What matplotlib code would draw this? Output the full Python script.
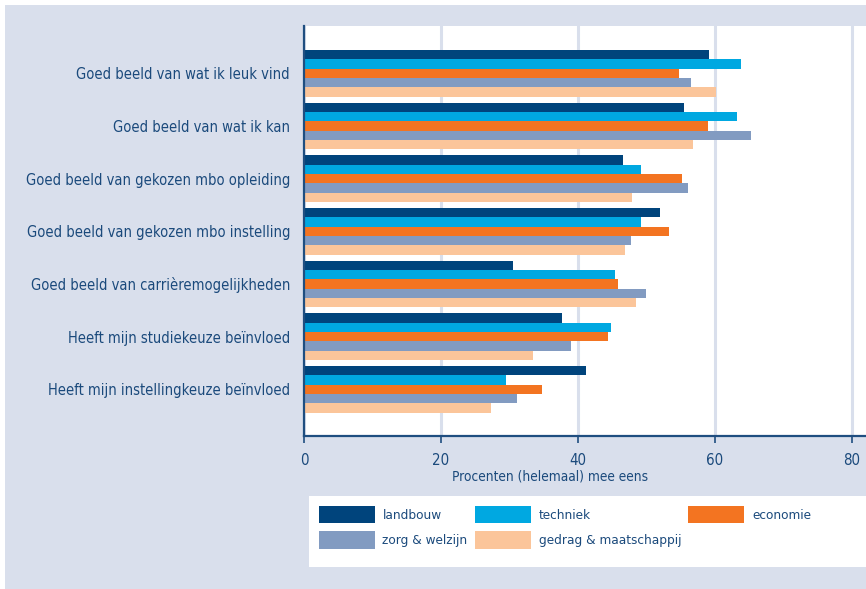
import matplotlib
matplotlib.use("Agg")
import matplotlib.pyplot as plt
from matplotlib.patches import Rectangle, Patch
from matplotlib import font_manager as fm
import numpy as np

categories = [
    "Goed beeld van wat ik leuk vind",
    "Goed beeld van wat ik kan",
    "Goed beeld van gekozen mbo opleiding",
    "Goed beeld van gekozen mbo instelling",
    "Goed beeld van carrièremogelijkheden",
    "Heeft mijn studiekeuze beïnvloed",
    "Heeft mijn instellingkeuze beïnvloed",
]
series_names = ["landbouw", "techniek", "economie", "zorg & welzijn", "gedrag & maatschappij"]
landbouw = [59.1, 55.5, 46.6, 52.0, 30.5, 37.7, 41.2]
techniek = [63.8, 63.2, 49.2, 49.2, 45.4, 44.8, 29.5]
economie = [54.7, 59.0, 55.2, 53.3, 45.8, 44.4, 34.7]
zorg = [56.5, 65.3, 56.1, 47.7, 49.9, 39.0, 31.1]
gedrag = [60.1, 56.8, 47.9, 46.9, 48.5, 33.4, 27.3]
xticks = [0, 20, 40, 60, 80]
xlabel = "Procenten (helemaal) mee eens"

colors = ["#00447c", "#00a8e1", "#f37421", "#829bc1", "#fbc59a"]
text_color = "#1b4a7c"
lavender = "#d9dfec"

names = {f.name for f in fm.fontManager.ttflist}
cond = [f for f in fm.fontManager.ttflist if f.stretch in ("condensed", "semi-condensed") or
        "Narrow" in f.name or "Condensed" in f.name]
if "Liberation Sans Narrow" in names:
    plt.rcParams['font.family'] = ["Liberation Sans Narrow", "DejaVu Sans"]
elif cond:
    plt.rcParams['font.family'] = [cond[0].name, "DejaVu Sans"]
    plt.rcParams['font.stretch'] = cond[0].stretch
else:
    plt.rcParams['font.family'] = ["Roboto", "DejaVu Sans"]
fs_y = 10.5
fs_tick = 10.8
fs_lab = 9.8
fs_leg = 9.7

W, H = 866, 589
fig = plt.figure(figsize=(W / 100, H / 100), dpi=100)
fig.patch.set_facecolor("white")
fig.patches.append(Rectangle((5 / W, 0), (W - 5) / W, (H - 5) / H,
                             transform=fig.transFigure, facecolor=lavender,
                             edgecolor="none", zorder=-2))
# white legend box
fig.patches.append(Rectangle((309 / W, 1 - 567 / H), (W - 309) / W, 71 / H,
                             transform=fig.transFigure, facecolor="white",
                             edgecolor="none", zorder=-1))

ax = fig.add_axes([304 / W, 1 - 436 / H, (W - 304) / W, (436 - 26) / H])
ax.set_facecolor("white")

data = [landbouw, techniek, economie, zorg, gedrag]
y = np.arange(len(categories))
h = 0.177
for j, (vals, c, name) in enumerate(zip(data, colors, series_names)):
    ax.barh(y + (j - 2) * h, vals, height=h, color=c, label=name, zorder=3)

ax.set_xlim(0, 82.04)
ax.set_ylim(6.886, -0.897)
ax.set_xticks(xticks)
ax.set_xticklabels([str(t) for t in xticks], color=text_color, fontsize=fs_tick)
ax.set_yticks(y)
ax.set_yticklabels(categories, color=text_color, fontsize=fs_y)
ax.tick_params(axis="y", length=0, pad=10)
ax.tick_params(axis="x", length=5, width=1.2, color="#1f4e80", pad=7, direction="out")
ax.xaxis.grid(True, color=lavender, linewidth=2.2, zorder=1)
ax.set_axisbelow(True)
for s in ["top", "right"]:
    ax.spines[s].set_visible(False)
for s in ["left", "bottom"]:
    ax.spines[s].set_color("#1f4e80")
    ax.spines[s].set_linewidth(1.6)
    ax.spines[s].set_zorder(5)

fig.text(550 / W, 1 - 476 / H, xlabel, ha="center", va="center",
         color=text_color, fontsize=fs_lab)

handles = [Patch(facecolor=c, edgecolor="none") for c in colors]
order = [0, 3, 1, 4, 2]
em = fs_leg * 100 / 72
leg = fig.legend([handles[i] for i in order], [series_names[i] for i in order],
                 ncol=3, loc="upper left", bbox_to_anchor=(309 / W, 1 - 496 / H),
                 bbox_transform=fig.transFigure, frameon=False, fontsize=fs_leg,
                 handlelength=56 / em, handleheight=22 / em, handletextpad=8 / em,
                 columnspacing=7 / em, labelspacing=8 / em, borderpad=9.5 / em,
                 borderaxespad=0)
for t in leg.get_texts():
    t.set_color(text_color)

fig.savefig("out.png", dpi=100)
